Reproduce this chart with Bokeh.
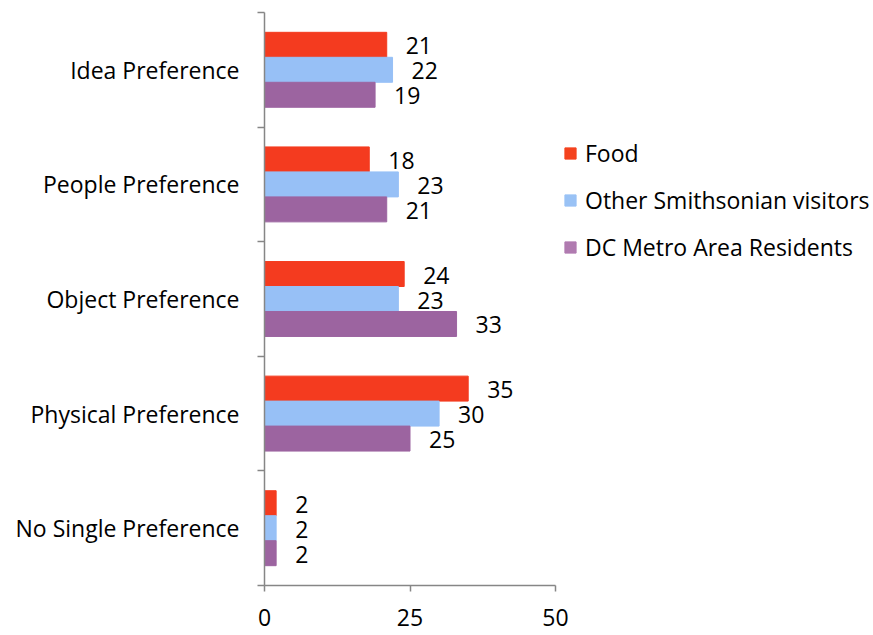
from bokeh.plotting import figure
from bokeh.models import (ColumnDataSource, Range1d, FixedTicker, Legend, LegendItem)
from bokeh.core.properties import value
from bokeh.embed import file_html
from bokeh.resources import INLINE

categories = ["No Single Preference", "Physical Preference", "Object Preference",
              "People Preference", "Idea Preference"]
series_names = ["Food", "Other Smithsonian visitors", "DC Metro Area Residents"]
food = [2, 35, 24, 18, 21]
other = [2, 30, 23, 23, 22]
dc = [2, 25, 33, 21, 19]
x_ticks = [0, 25, 50]
x_axis_max = 50

colors = ["#F43B1F", "#97C0F6", "#9C64A0"]
legend_colors = ["#F4421E", "#99C2F5", "#B07BB0"]
FONT = "Open Sans"
FS = "23px"

# frame spans to the right edge (room for legend); axis line limited to 0..50
frame_w = 873 - 264
axis_w = 555 - 264
p = figure(width=873, height=635, output_backend="svg", toolbar_location=None,
           x_range=Range1d(0, x_axis_max * frame_w / axis_w), y_range=Range1d(0, 5),
           min_border_left=264, min_border_right=0, min_border_top=12,
           min_border_bottom=50)
p.outline_line_color = None
p.grid.grid_line_color = None

centers = [i + 0.5 for i in range(len(categories))]
bar_h = 0.218
offsets = [bar_h, 0.0, -bar_h]
for vals, off, col in zip([food, other, dc], offsets, colors):
    src = ColumnDataSource(dict(y=[c + off for c in centers], x=vals,
                                lab=[str(v) for v in vals]))
    p.hbar(y="y", right="x", left=0, height=bar_h, color=col, source=src)
    p.text(x="x", y="y", text="lab", source=src, x_offset=19, y_offset=1,
           text_align="left", text_baseline="middle", text_font=value(FONT),
           text_font_size=FS, text_color="#000000")

# axes
axis_col = "#868686"
xa = p.xaxis[0]
xa.bounds = (0, x_axis_max)
xa.ticker = FixedTicker(ticks=x_ticks)
xa.axis_line_color = axis_col
xa.axis_line_width = 1.5
xa.major_tick_line_color = axis_col
xa.major_tick_line_width = 1.5
xa.major_tick_out = 6
xa.major_tick_in = 0
xa.minor_tick_line_color = None
xa.major_label_text_font = FONT
xa.major_label_text_font_size = FS
xa.major_label_text_color = "#000000"
xa.major_label_standoff = 17

ya = p.yaxis[0]
ya.ticker = FixedTicker(ticks=centers, minor_ticks=[0, 1, 2, 3, 4, 5])
ya.major_label_overrides = {c: n for c, n in zip(centers, categories)}
ya.axis_line_color = axis_col
ya.axis_line_width = 1.5
ya.major_tick_line_color = None
ya.major_tick_out = 0
ya.major_tick_in = 0
ya.minor_tick_line_color = axis_col
ya.minor_tick_line_width = 1.5
ya.minor_tick_out = 7
ya.minor_tick_in = 0
ya.major_label_text_font = FONT
ya.major_label_text_font_size = FS
ya.major_label_text_color = "#000000"
ya.major_label_standoff = 18

# legend (zero-width swatch renderers carrying the legend colours)
items = []
for name, col in zip(series_names, legend_colors):
    rr = p.hbar(y=[0.5], right=[0], left=0, height=0.0, color=col)
    items.append(LegendItem(label=name, renderers=[rr]))
legend = Legend(items=items, location=(299, 322), border_line_color=None,
                background_fill_alpha=0, label_text_font=FONT,
                label_text_font_size=FS, label_text_color="#000000",
                glyph_width=14, glyph_height=14, label_standoff=8,
                spacing=15, label_height=22, padding=0, margin=0)
p.add_layout(legend, "center")

open("out.html", "w").write(file_html(p, INLINE))
